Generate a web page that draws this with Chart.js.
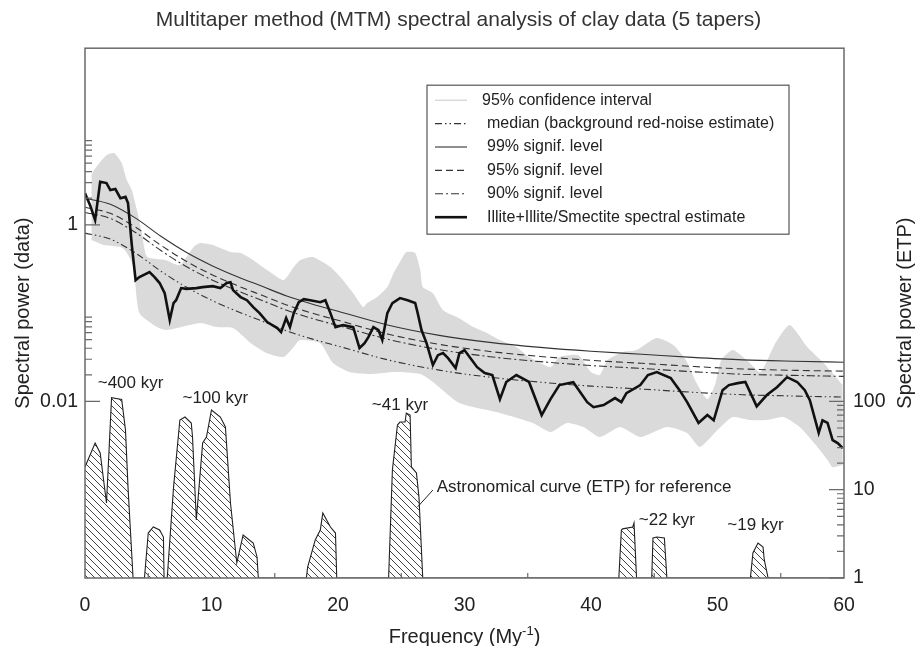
<!DOCTYPE html>
<html>
<head>
<meta charset="utf-8">
<script src="https://cdn.jsdelivr.net/npm/chart.js@4.4.1/dist/chart.umd.min.js"></script>
<style>
  html, body { margin: 0; padding: 0; background: #fff; }
  #wrap { width: 917px; height: 646px; position: relative; }
</style>
</head>
<body>
<div id="wrap"><canvas id="mtm-chart"></canvas></div>
<script>
// red-noise background and significance levels (left axis, log)
const noiseFreq   = [0, 2, 4, 6, 8, 10, 12, 14, 16, 18, 20, 24, 28, 32, 36, 40, 44, 48, 52, 56, 60];
const medianLevel = [0.805, 0.689, 0.478, 0.299, 0.197, 0.140, 0.105, 0.0812, 0.0625, 0.0507, 0.0423, 0.0294, 0.0226, 0.0188, 0.0165, 0.0149, 0.0138, 0.0127, 0.0119, 0.0115, 0.0112];
const signif99    = [2.00, 1.71, 1.19, 0.742, 0.489, 0.347, 0.260, 0.201, 0.155, 0.126, 0.105, 0.0729, 0.0560, 0.0466, 0.0409, 0.0370, 0.0342, 0.0315, 0.0295, 0.0285, 0.0278];
const signif95    = [1.58, 1.35, 0.937, 0.586, 0.386, 0.274, 0.206, 0.159, 0.123, 0.0994, 0.0829, 0.0576, 0.0443, 0.0368, 0.0323, 0.0292, 0.0270, 0.0249, 0.0233, 0.0225, 0.0220];
const signif90    = [1.38, 1.18, 0.817, 0.511, 0.337, 0.239, 0.180, 0.139, 0.107, 0.0867, 0.0723, 0.0503, 0.0386, 0.0321, 0.0282, 0.0255, 0.0236, 0.0217, 0.0203, 0.0197, 0.0192];

// Illite+Illite/Smectite spectral estimate
const spectrumFreq = [0, 0.4, 0.8, 1.2, 1.7, 2.0, 2.4, 2.8, 3.2, 3.4, 3.7, 4.0, 4.3, 5.1, 5.5, 5.9, 6.3, 6.7, 7.0, 7.2,
  7.6, 8.0, 8.8, 9.3, 10.1, 10.7, 11.2, 11.5, 11.7, 12.3, 12.8, 13.3, 13.8, 14.4, 15.2, 15.5, 15.9, 16.2, 16.5, 16.9,
  17.3, 17.8, 18.6, 19.0, 19.4, 19.8, 20.4, 21.2, 21.7, 22.1, 22.4, 22.8, 23.2, 23.5, 23.9, 24.3, 24.9, 25.5, 26.1, 26.3,
  26.6, 27.0, 27.5, 27.9, 28.3, 28.7, 29.3, 29.6, 30.0, 30.4, 31.0, 31.6, 32.2, 32.8, 33.3, 34.1, 35.1, 36.1, 36.8, 37.5,
  38.6, 39.7, 40.2, 41.0, 41.9, 42.4, 42.8, 43.9, 44.5, 45.2, 46.3, 47.0, 47.6, 48.5, 49.2, 49.7, 50.4, 50.9, 51.6, 52.2,
  53.1, 53.9, 54.7, 55.5, 56.3, 56.9, 57.3, 58.0, 58.3, 58.7, 59.1, 59.5, 59.9];
const spectrumPower = [2.27, 1.67, 1.13, 3.07, 2.97, 2.47, 2.54, 2.00, 2.07, 1.76, 0.589, 0.236, 0.256, 0.291, 0.256, 0.219, 0.168, 0.0834, 0.130, 0.140,
  0.192, 0.188, 0.192, 0.197, 0.202, 0.192, 0.219, 0.224, 0.182, 0.152, 0.140, 0.117, 0.100, 0.0791, 0.0676, 0.0609, 0.0877, 0.0694, 0.100, 0.133,
  0.144, 0.140, 0.133, 0.140, 0.100, 0.0694, 0.0731, 0.0694, 0.0402, 0.0457, 0.0535, 0.0694, 0.0642, 0.0495, 0.100, 0.130, 0.148, 0.140, 0.130, 0.100,
  0.0642, 0.0457, 0.0258, 0.0334, 0.0352, 0.0309, 0.0238, 0.0352, 0.0381, 0.0318, 0.0244, 0.0209, 0.0199, 0.0106, 0.0166, 0.0199, 0.0166, 0.0070, 0.0106, 0.0153,
  0.0165, 0.0098, 0.0086, 0.0091, 0.0109, 0.0098, 0.0124, 0.0153, 0.0199, 0.0215, 0.0184, 0.0134, 0.0098, 0.0057, 0.0070, 0.0061, 0.0134, 0.0153, 0.0161, 0.0166,
  0.0088, 0.0118, 0.0145, 0.0188, 0.0166, 0.0134, 0.0103, 0.0044, 0.0061, 0.0057, 0.00365, 0.00337, 0.00296];

// 95% confidence interval, upper and lower edges
const ciUpperFreq = [0.5, 0.9, 1.7, 2.3, 2.9, 3.3, 3.7, 4.1, 4.5, 4.9, 6.4, 7.5, 8.6, 9.1, 10.1, 11.5, 12.3, 13.3, 14.4, 15.7,
  16.5, 17.0, 18.0, 19.4, 20.4, 21.2, 22.0, 22.3, 23.1, 23.9, 24.4, 24.9, 25.4, 26.1, 26.5, 26.7, 27.5, 28.3, 29.4, 30.7,
  31.8, 32.8, 34.1, 35.1, 36.8, 37.5, 39.0, 40.0, 40.7, 41.3, 42.5, 43.6, 45.2, 46.5, 47.5, 48.3, 49.2, 49.8, 50.3, 51.2,
  52.3, 53.4, 54.5, 55.7, 57.1, 58.3, 59.1, 59.9];
const ciUpper = [3.66, 4.54, 6.15, 6.49, 5.00, 3.21, 2.47, 1.47, 0.805, 0.434, 0.398, 0.350, 0.564, 0.621, 0.589, 0.491, 0.478, 0.398, 0.307, 0.236,
  0.332, 0.398, 0.431, 0.332, 0.236, 0.168, 0.117, 0.130, 0.152, 0.197, 0.284, 0.378, 0.491, 0.478, 0.307, 0.197, 0.168, 0.108, 0.0901, 0.0694,
  0.0593, 0.0495, 0.0412, 0.0318, 0.0244, 0.0318, 0.0334, 0.0215, 0.0199, 0.0294, 0.0361, 0.0381, 0.0521, 0.0435, 0.0294, 0.0166, 0.0106, 0.0153, 0.0294, 0.0381,
  0.0294, 0.0215, 0.0435, 0.0731, 0.0412, 0.0279, 0.0209, 0.0153];
const ciLowerFreq = [0.5, 1.5, 3.0, 3.8, 4.3, 5.7, 6.5, 9.1, 10.4, 11.7, 13.1, 14.4, 15.7, 16.5, 17.0, 18.6, 19.6, 20.9, 22.5, 24.5,
  26.5, 27.5, 29.6, 32.8, 35.4, 36.8, 38.1, 39.4, 40.7, 42.3, 43.9, 46.0, 47.6, 48.6, 50.0, 51.2, 52.6, 53.9, 55.2, 56.5,
  57.9, 58.7, 59.1, 59.9];
const ciLower = [0.671, 0.589, 0.544, 0.350, 0.100, 0.0694, 0.0642, 0.0771, 0.0694, 0.0676, 0.0457, 0.0352, 0.0318, 0.0412, 0.0495, 0.0457, 0.0272, 0.0215, 0.0204, 0.0215,
  0.0204, 0.0166, 0.00957, 0.00738, 0.00568, 0.00449, 0.00568, 0.00512, 0.00394, 0.00512, 0.00394, 0.00512, 0.00438, 0.00304, 0.00473, 0.00664, 0.00614, 0.00614, 0.00664, 0.00512,
  0.00304, 0.00217, 0.00180, 0.00190];

// astronomical curve ETP (right axis, log)
const etpFreq = [0, 0.8, 1.2, 1.7, 2.1, 2.9, 3.2, 3.4, 3.8, 4.7, 5.0, 5.4, 5.9, 6.2, 6.25, 6.5, 7.0, 7.5, 7.9, 8.4,
  8.5, 8.8, 9.3, 9.6, 10.0, 10.7, 11.1, 11.5, 12.0, 12.5, 13.3, 13.6, 13.7, 17.5, 17.6, 18.2, 18.6, 18.8, 19.4, 19.8,
  19.9, 24.0, 24.3, 24.7, 24.9, 25.3, 25.4, 25.7, 25.8, 26.2, 26.4, 26.7, 42.2, 42.4, 42.5, 43.3, 43.4, 43.6, 44.8, 44.9,
  45.2, 45.8, 46.0, 52.6, 52.8, 53.2, 53.6, 53.7, 54.0, 60];
const etpPower = [18.1, 33.8, 26.1, 7.07, 110, 105, 47.5, 10.7, 1, 1, 3.23, 3.78, 3.5, 2.91, 1, 1, 10.7, 61.5, 66.6, 56.9,
  39.5, 4.54, 33.8, 39.5, 80, 66.6, 51.3, 7.07, 1.48, 3.07, 2.49, 1.73, 1, 1, 1.33, 2.7, 3.5, 5.45, 3.78, 3.23,
  1, 1, 16.7, 54, 58.4, 58.4, 73.9, 70.2, 18.1, 15.5, 8.27, 1, 1, 3.5, 3.6, 3.78, 4.2, 1, 1, 2.84,
  2.91, 2.84, 1, 1, 1.92, 2.49, 2.24, 1.6, 1, 1];

// ticks
const xTickValues = [0, 10, 20, 30, 40, 50, 60];
const xMinorTicks = [5, 15, 25, 35, 45, 55];
const leftMajorTicks = [0.01, 1];
const leftTickText = ['0.01', '1'];
const leftMinorTicks = [0.02, 0.03, 0.04, 0.05, 0.06, 0.07, 0.08, 0.09, 2, 3, 4, 5, 6, 7, 8, 9];
const rightMajorTicks = [1, 10, 100];
const rightTickText = ['1', '10', '100'];
const rightMinorTicks = [2, 3, 4, 5, 6, 7, 8, 9, 20, 30, 40, 50, 60, 70, 80, 90];

const FONT = "'Liberation Sans', Arial, Helvetica, sans-serif";
Chart.defaults.font.family = FONT;
Chart.defaults.color = '#222';

const pts = (xs, ys) => xs.map((x, i) => ({ x: x, y: ys[i] }));

const canvas = document.getElementById('mtm-chart');
const ctx = canvas.getContext('2d');

function hatchPattern() {
  const c = document.createElement('canvas');
  c.width = 7; c.height = 7;
  const g = c.getContext('2d');
  g.strokeStyle = '#444';
  g.lineWidth = 1;
  g.beginPath();
  g.moveTo(0, 0); g.lineTo(7, 7);
  g.moveTo(-1, 6); g.lineTo(1, 8);
  g.moveTo(6, -1); g.lineTo(8, 1);
  g.stroke();
  return ctx.createPattern(c, 'repeat');
}

// text labels on the ETP curve (x in My^-1, y on the ETP axis)
const etpNotes = [
  { text: '~400 kyr', x: 3.6, y: 160, align: 'center' },
  { text: '~100 kyr', x: 10.3, y: 109, align: 'center' },
  { text: '~41 kyr', x: 24.9, y: 91, align: 'center' },
  { text: 'Astronomical curve (ETP) for reference', x: 27.8, y: 10.7, align: 'left' },
  { text: '~22 kyr', x: 46.0, y: 4.5, align: 'center' },
  { text: '~19 kyr', x: 53.0, y: 4.0, align: 'center' }
];

const legendRows = [
  { text: '95% confidence interval', ds: 6, band: true },
  { text: 'median (background red-noise estimate)', ds: 5 },
  { text: '99% signif. level', ds: 2 },
  { text: '95% signif. level', ds: 3 },
  { text: '90% signif. level', ds: 4 },
  { text: 'Illite+Illite/Smectite spectral estimate', ds: 0 }
];

const decor = {
  id: 'decor',
  afterDatasetsDraw(chart) {
    const { ctx, chartArea: a, scales } = chart;
    ctx.save();
    // frame
    ctx.strokeStyle = '#6a6a6a';
    ctx.lineWidth = 1.5;
    ctx.strokeRect(a.left, a.top, a.right - a.left, a.bottom - a.top);
    // inward tick marks
    ctx.lineWidth = 1.2;
    ctx.beginPath();
    xMinorTicks.forEach(v => {
      const px = scales.x.getPixelForValue(v);
      ctx.moveTo(px, a.bottom); ctx.lineTo(px, a.bottom - 5);
    });
    const yTicks = (scale, list, x0, len) => list.forEach(v => {
      const py = scale.getPixelForValue(v);
      ctx.moveTo(x0, py); ctx.lineTo(x0 + len, py);
    });
    yTicks(scales.y, leftMajorTicks, a.left, 15);
    yTicks(scales.y, leftMinorTicks, a.left, 7);
    yTicks(scales.y2, rightMajorTicks, a.right, -15);
    yTicks(scales.y2, rightMinorTicks, a.right, -7);
    ctx.stroke();

    // ETP annotations
    ctx.fillStyle = '#222';
    ctx.font = '17px ' + FONT;
    ctx.textBaseline = 'middle';
    etpNotes.forEach(n => {
      ctx.textAlign = n.align;
      ctx.fillText(n.text, scales.x.getPixelForValue(n.x), scales.y2.getPixelForValue(n.y));
    });
    // leader line to the 41 kyr peak
    ctx.strokeStyle = '#222';
    ctx.lineWidth = 1;
    ctx.beginPath();
    ctx.moveTo(scales.x.getPixelForValue(27.5), scales.y2.getPixelForValue(9.9));
    ctx.lineTo(scales.x.getPixelForValue(26.3), scales.y2.getPixelForValue(6.4));
    ctx.stroke();
    ctx.restore();
  },
  afterDraw(chart) {
    const { ctx, chartArea: a } = chart;
    ctx.save();
    // legend box
    const bx = a.left + 342, by = a.top + 37, bw = 362, bh = 149;
    ctx.fillStyle = '#fff';
    ctx.fillRect(bx, by, bw, bh);
    ctx.strokeStyle = '#555';
    ctx.lineWidth = 1.2;
    ctx.strokeRect(bx, by, bw, bh);
    ctx.font = '16px ' + FONT;
    ctx.textBaseline = 'middle';
    ctx.textAlign = 'left';
    legendRows.forEach((r, i) => {
      const ds = chart.data.datasets[r.ds];
      const y = by + 15 + i * 23.4;
      ctx.beginPath();
      if (r.band) {
        ctx.strokeStyle = '#c8c8c8';
        ctx.lineWidth = 1;
        ctx.setLineDash([]);
      } else {
        ctx.strokeStyle = ds.borderColor;
        ctx.lineWidth = ds.borderWidth;
        ctx.setLineDash(ds.borderDash || []);
      }
      ctx.moveTo(bx + 8, y);
      ctx.lineTo(bx + 40, y);
      ctx.stroke();
      ctx.setLineDash([]);
      ctx.fillStyle = '#222';
      ctx.fillText(r.text, bx + (i === 0 ? 55 : 60), y);
    });

    // x axis title with superscript
    ctx.fillStyle = '#222';
    ctx.textBaseline = 'alphabetic';
    ctx.font = '20px ' + FONT;
    const main = 'Frequency (My', tail = ')';
    ctx.font = '13px ' + FONT;
    const wSup = ctx.measureText('-1').width;
    ctx.font = '20px ' + FONT;
    const wMain = ctx.measureText(main).width, wTail = ctx.measureText(tail).width;
    let x = (a.left + a.right) / 2 - (wMain + wSup + wTail) / 2;
    const base = 643;
    ctx.fillText(main, x, base);
    x += wMain;
    ctx.font = '13px ' + FONT;
    ctx.fillText('-1', x, base - 8);
    x += wSup;
    ctx.font = '20px ' + FONT;
    ctx.fillText(tail, x, base);

    // right axis title
    ctx.translate(905, (a.top + a.bottom) / 2);
    ctx.rotate(-Math.PI / 2);
    ctx.textAlign = 'center';
    ctx.textBaseline = 'middle';
    ctx.fillText('Spectral power (ETP)', 0, 0);
    ctx.restore();
  }
};

const chart = new Chart(ctx, {
  type: 'line',
  data: {
    datasets: [
      {
        label: 'Illite+Illite/Smectite spectral estimate',
        data: pts(spectrumFreq, spectrumPower),
        borderColor: '#111', borderWidth: 2.6, tension: 0,
        yAxisID: 'y', order: 1
      },
      {
        label: 'Astronomical curve (ETP)',
        data: pts(etpFreq, etpPower),
        borderColor: '#222', borderWidth: 1.1, tension: 0,
        backgroundColor: hatchPattern(), fill: 'start',
        yAxisID: 'y2', order: 2
      },
      {
        label: '99% signif. level',
        data: pts(noiseFreq, signif99),
        borderColor: '#333', borderWidth: 1.1, cubicInterpolationMode: 'monotone',
        yAxisID: 'y', order: 3
      },
      {
        label: '95% signif. level',
        data: pts(noiseFreq, signif95),
        borderColor: '#333', borderWidth: 1.1, borderDash: [7, 4], cubicInterpolationMode: 'monotone',
        yAxisID: 'y', order: 4
      },
      {
        label: '90% signif. level',
        data: pts(noiseFreq, signif90),
        borderColor: '#333', borderWidth: 1.1, borderDash: [8, 3, 2, 3], cubicInterpolationMode: 'monotone',
        yAxisID: 'y', order: 5
      },
      {
        label: 'median (background red-noise estimate)',
        data: pts(noiseFreq, medianLevel),
        borderColor: '#333', borderWidth: 1.1, borderDash: [7, 3, 1.5, 3, 1.5, 3], cubicInterpolationMode: 'monotone',
        yAxisID: 'y', order: 6
      },
      {
        label: '95% confidence interval',
        data: pts(ciUpperFreq, ciUpper),
        borderColor: 'rgba(0,0,0,0)', borderWidth: 0, backgroundColor: '#dadada',
        fill: '+1', tension: 0.2, yAxisID: 'y', order: 10
      },
      {
        label: 'ci lower',
        data: pts(ciLowerFreq, ciLower),
        borderColor: 'rgba(0,0,0,0)', borderWidth: 0, tension: 0.2,
        yAxisID: 'y', order: 11
      }
    ]
  },
  options: {
    responsive: true,
    maintainAspectRatio: false,
    animation: false,
    events: [],
    elements: { point: { radius: 0 } },
    layout: { padding: 0 },
    plugins: {
      legend: { display: false },
      tooltip: { enabled: false },
      title: {
        display: true,
        text: 'Multitaper method (MTM) spectral analysis of clay data (5 tapers)',
        font: { size: 21, weight: 'normal' },
        color: '#333',
        padding: { top: 8, bottom: 15 }
      }
    },
    scales: {
      x: {
        type: 'linear', position: 'bottom', min: 0, max: 60,
        grid: { display: false, drawTicks: false },
        border: { display: false },
        afterBuildTicks: s => { s.ticks = xTickValues.map(v => ({ value: v })); },
        afterFit: s => { s.height = 68; },
        ticks: { autoSkip: false, maxRotation: 0, padding: 16, font: { size: 19.5 }, color: '#222',
          callback: v => String(v) }
      },
      y: {
        type: 'logarithmic', position: 'left', min: 1e-4, max: 100,
        grid: { display: false, drawTicks: false },
        border: { display: false },
        afterBuildTicks: s => { s.ticks = leftMajorTicks.map(v => ({ value: v })); },
        afterFit: s => { s.width = 85; },
        ticks: { autoSkip: false, padding: 7, font: { size: 19.5 }, color: '#222',
          callback: (v, i) => leftTickText[i] },
        title: { display: true, text: 'Spectral power (data)', font: { size: 20 }, color: '#222',
          padding: { top: 11, bottom: 0 } }
      },
      y2: {
        type: 'logarithmic', position: 'right', min: 1, max: 1e6,
        grid: { display: false, drawTicks: false },
        border: { display: false },
        afterBuildTicks: s => { s.ticks = rightMajorTicks.map(v => ({ value: v })); },
        afterFit: s => { s.width = 73; },
        ticks: { autoSkip: false, padding: 9, font: { size: 19.5 }, color: '#222',
          callback: (v, i) => rightTickText[i] }
      }
    }
  },
  plugins: [decor]
});
</script>
</body>
</html>
